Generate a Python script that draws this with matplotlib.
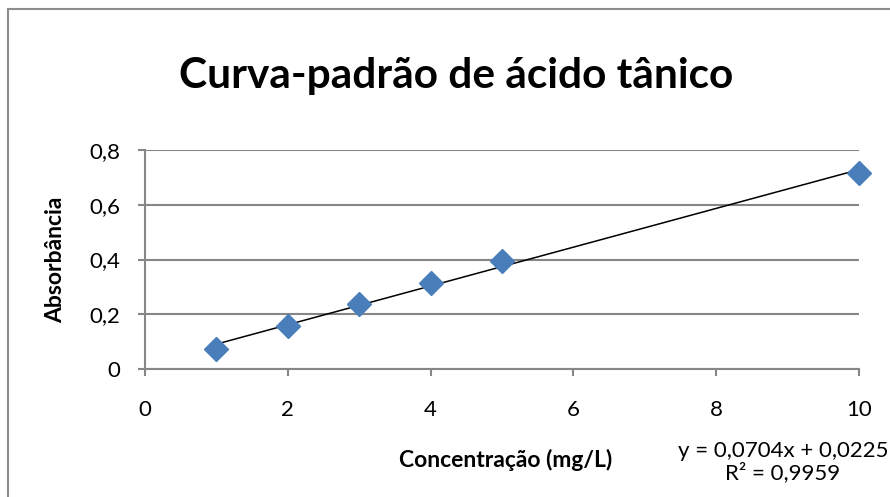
import matplotlib
matplotlib.use('Agg')
import matplotlib.pyplot as plt
import matplotlib.patches as patches
import numpy as np

# data
conc = [1, 2, 3, 4, 5, 10]
absorb = [0.072, 0.157, 0.238, 0.316, 0.394, 0.715]
x_ticks = [0, 2, 4, 6, 8, 10]
y_ticks = [0, 0.2, 0.4, 0.6, 0.8]
y_labels = ['0', '0,2', '0,4', '0,6', '0,8']
title = 'Curva-padrão de ácido tânico'
eq_text = 'y = 0,0704x + 0,0225\nR² = 0,9959'

plt.rcParams['font.family'] = ['Lato', 'DejaVu Sans']

fig = plt.figure(figsize=(8.9, 4.97), dpi=100)
ax = fig.add_axes([0.163, 0.2575, 0.802, 0.4405])

grid_col = '#868686'
ax.set_xlim(0, 10)
ax.set_ylim(0, 0.8)
ax.set_xticks(x_ticks)
ax.set_xticklabels([str(t) for t in x_ticks])
ax.set_yticks(y_ticks)
ax.set_yticklabels(y_labels)
ax.yaxis.grid(True, color=grid_col, linewidth=1.5)
ax.set_axisbelow(True)
for s in ['top', 'right']:
    ax.spines[s].set_visible(False)
for s in ['left', 'bottom']:
    ax.spines[s].set_color(grid_col)
    ax.spines[s].set_linewidth(1.5)
ax.tick_params(axis='both', direction='out', length=5, width=1.5, color=grid_col,
               labelsize=16)
ax.tick_params(axis='x', pad=17)
ax.tick_params(axis='y', pad=13)

# linear trendline
slope, icpt = np.polyfit(conc, absorb, 1)
xs = np.array([conc[0], conc[-1]])
ax.plot(xs, slope * xs + icpt, color='black', linewidth=1.1, zorder=3)
ax.plot(conc, absorb, linestyle='none', marker='D', markersize=12,
        color='#4A7EBB', markeredgecolor='#4A7EBB', zorder=4, clip_on=False)

fig.text(0.5685, 1 - 460 / 497, 'Concentração (mg/L)', fontsize=16.5, fontweight='bold',
         ha='center', va='center')
fig.text(56 / 890, 1 - 260 / 497, 'Absorbância', fontsize=16.5, fontweight='bold',
         ha='center', va='center', rotation=90)

fig.text(456 / 890, 1 - 76 / 497, title, fontsize=30.5, fontweight='bold', ha='center', va='center')
fig.text(783 / 890, 1 - 462 / 497, eq_text, fontsize=16, ha='center', va='center', linespacing=1.1)

frame = patches.Rectangle((8 / 890, -0.1), 1.2, 1 - 9 / 497 + 0.1, transform=fig.transFigure,
                          fill=False, edgecolor='#8c8c8c', linewidth=1.5, clip_on=False)
fig.patches.append(frame)

fig.savefig('out.png', dpi=100)
